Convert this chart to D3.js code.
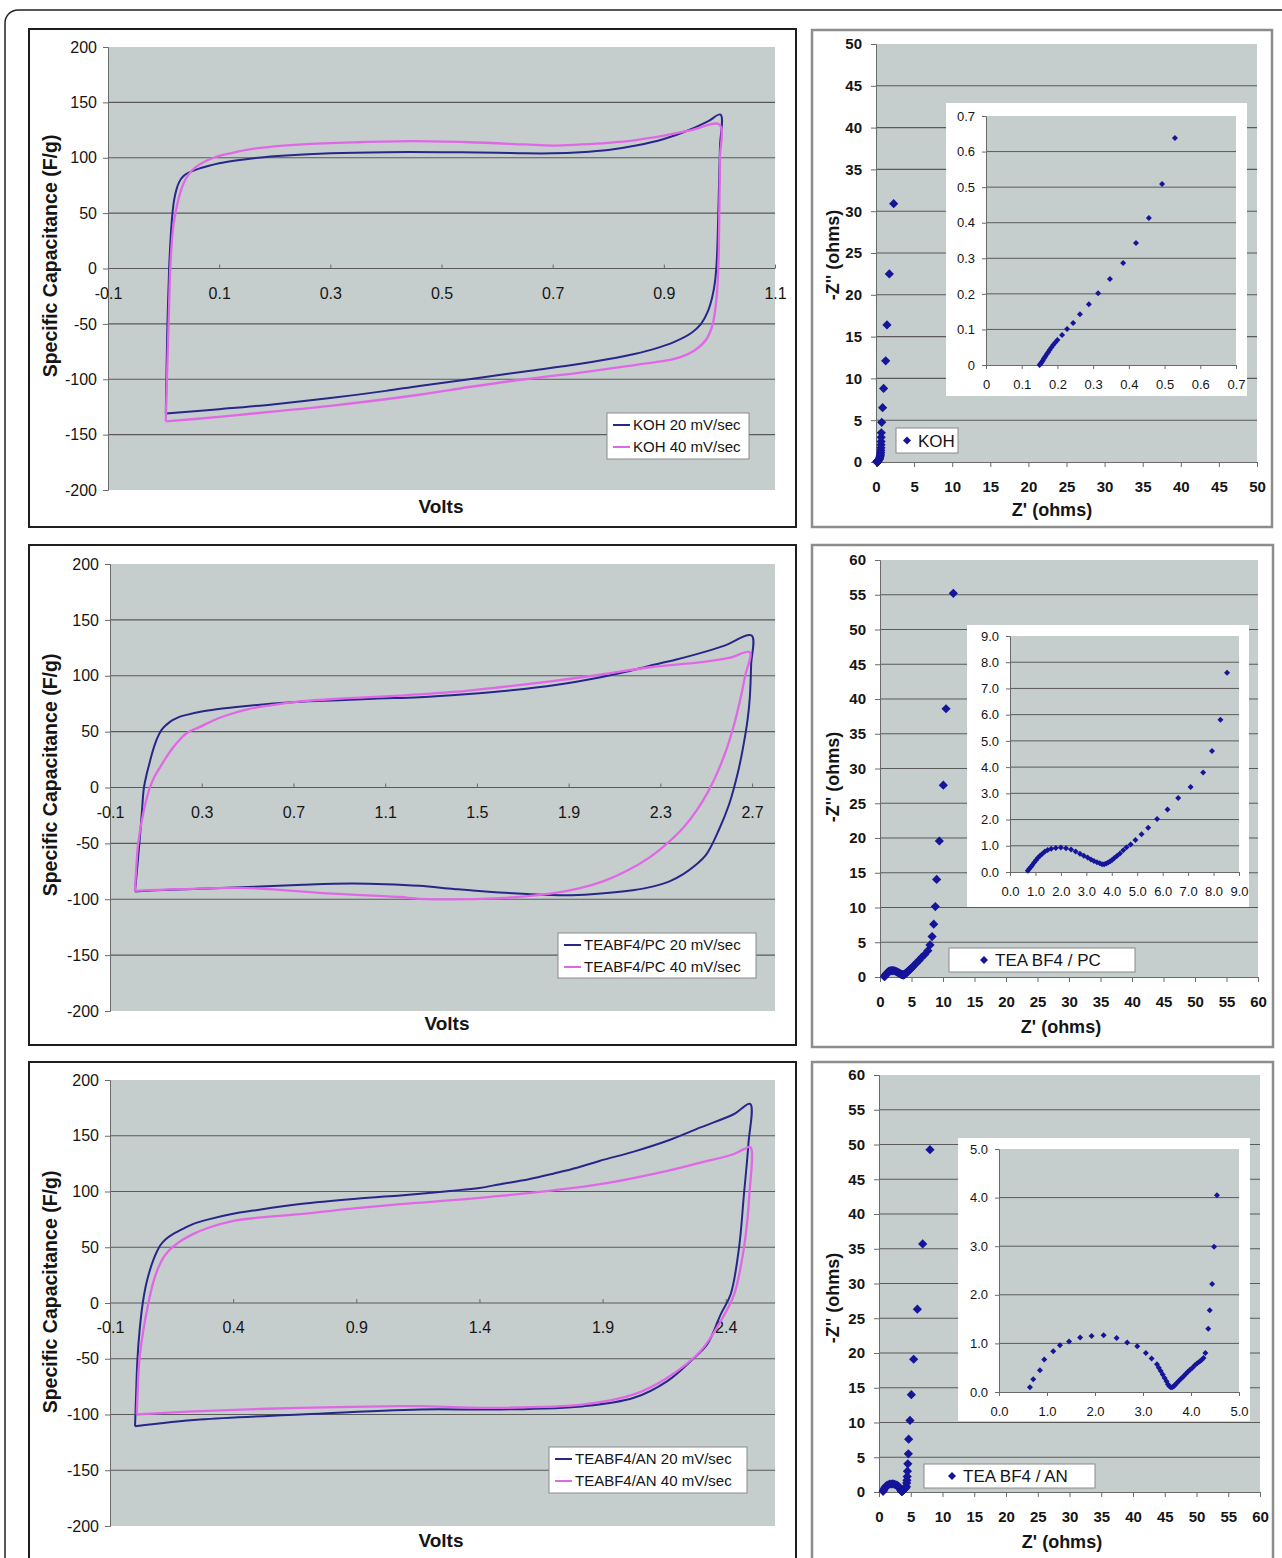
<!DOCTYPE html>
<html><head><meta charset="utf-8">
<script src="https://cdn.jsdelivr.net/npm/d3@7"></script>
<style>body{margin:0;background:#fff;}svg{display:block;}</style>
</head><body>
<svg id="c" width="1282" height="1558"></svg>
<script>
// ---------------- DATA ----------------
// Cyclic voltammograms: [Volts, Specific capacitance F/g]
const koh20 = [[0.004,-131],[0.005,-100],[0.007,-50],[0.010,0],[0.013,30],[0.016,50],[0.019,62],[0.023,71],[0.028,78],[0.035,83],[0.045,86.5],[0.06,89.5],[0.08,92.5],[0.10,95],[0.13,97.5],[0.17,100],[0.22,102],[0.30,104],[0.40,105],[0.50,105],[0.60,104.5],[0.65,104],[0.70,104],[0.75,105],[0.80,107],[0.85,111],[0.90,117],[0.95,126],[0.98,133],[1.002,139],[1.001,110],[0.999,70],[0.997,30],[0.995,5],[0.992,-12],[0.987,-26],[0.979,-39],[0.967,-50],[0.95,-58],[0.92,-66],[0.88,-73],[0.83,-79],[0.75,-86],[0.65,-93],[0.55,-100],[0.46,-106],[0.40,-110.5],[0.30,-117],[0.20,-122.5],[0.10,-127],[0.004,-131]];
const koh40 = [[0.004,-138],[0.006,-100],[0.009,-50],[0.012,0],[0.015,25],[0.018,40],[0.022,52],[0.027,63],[0.033,73],[0.040,81],[0.05,88],[0.065,94],[0.09,100],[0.12,104],[0.16,108],[0.25,112],[0.35,114],[0.45,115],[0.55,114],[0.65,112],[0.70,111],[0.75,112],[0.80,113.5],[0.85,116],[0.90,120],[0.95,125],[1.00,130],[1.001,100],[1.000,60],[0.999,20],[0.997,-12],[0.993,-35],[0.987,-52],[0.975,-65],[0.955,-74],[0.93,-80],[0.90,-83.5],[0.85,-87],[0.75,-94],[0.65,-100],[0.55,-107],[0.46,-114],[0.30,-124],[0.20,-129],[0.10,-134],[0.004,-138]];
const pc20 = [[0.009,-93],[0.015,-80],[0.028,-50],[0.038,-25],[0.048,0],[0.06,12],[0.07,20],[0.08,28],[0.09,35],[0.10,41],[0.11,46],[0.125,51.5],[0.14,55],[0.16,58.5],[0.175,60.5],[0.20,63],[0.234,65],[0.30,68],[0.365,70],[0.45,72],[0.60,75],[0.75,77],[0.90,78],[1.05,79.5],[1.25,80.8],[1.45,83.5],[1.65,87],[1.85,92],[2.04,98.7],[2.15,103.5],[2.255,109],[2.37,114.5],[2.47,120],[2.58,127],[2.698,136],[2.696,110],[2.69,80],[2.68,60],[2.66,35],[2.64,15],[2.60,-15],[2.555,-38],[2.50,-60],[2.45,-70],[2.40,-77.5],[2.34,-84],[2.27,-88.5],[2.18,-92],[2.00,-95.5],[1.89,-96.4],[1.72,-95.3],[1.55,-93.3],[1.40,-90.8],[1.25,-88],[1.10,-86.5],[0.95,-86],[0.75,-87],[0.5,-89],[0.1,-92],[0.009,-93]];
const pc40 = [[0.009,-92.5],[0.013,-77],[0.023,-50],[0.045,-23],[0.074,0],[0.095,10],[0.118,18],[0.145,27],[0.176,36],[0.205,43],[0.234,48.5],[0.26,51.5],[0.29,54],[0.35,60],[0.40,64],[0.50,70],[0.60,73.5],[0.73,77],[0.90,79.5],[1.165,82.3],[1.40,85.5],[1.60,89.7],[1.82,95],[2.04,101],[2.255,107.6],[2.47,112],[2.60,116],[2.69,121],[2.67,100],[2.65,80],[2.62,55],[2.59,35],[2.55,14],[2.51,-3],[2.46,-20],[2.40,-36],[2.33,-50],[2.25,-63],[2.15,-75],[2.05,-84],[1.95,-90],[1.82,-95],[1.60,-99],[1.25,-99.6],[1.165,-98],[0.87,-95],[0.5,-90],[0.2,-91],[0.009,-92.5]];
const an20 = [[0.0016,-110.5],[0.004,-95],[0.006,-82],[0.011,-52],[0.02,-25],[0.033,0],[0.045,15],[0.06,28],[0.075,38],[0.09,46],[0.105,52],[0.125,57],[0.157,62],[0.20,67],[0.239,71],[0.30,75],[0.40,80],[0.50,83.5],[0.672,88.7],[0.90,93.5],[1.079,96.5],[1.16,98],[1.28,100.5],[1.40,103.2],[1.485,106.6],[1.60,111],[1.70,116],[1.80,121.5],[1.89,127.6],[2.03,136],[2.163,145.5],[2.298,157.5],[2.434,169.5],[2.499,178.5],[2.492,142.6],[2.474,97.7],[2.454,49.7],[2.42,7.8],[2.38,-10],[2.325,-37],[2.258,-52],[2.163,-70],[2.027,-85],[1.824,-92.5],[1.485,-95.5],[1.16,-95.5],[0.672,-100],[0.266,-104.5],[0.0016,-110.5]];
const an40 = [[0.0085,-100],[0.012,-80],[0.019,-52],[0.035,-25],[0.056,0],[0.075,18],[0.095,31],[0.115,40],[0.135,46],[0.157,50.5],[0.19,56],[0.239,62],[0.30,67.5],[0.401,73.7],[0.50,76.5],[0.672,79.7],[0.9,85],[1.079,88.7],[1.16,90],[1.485,96],[1.89,106.6],[2.163,118.6],[2.298,126],[2.434,133.6],[2.474,138],[2.50,139.7],[2.496,97.7],[2.474,49.7],[2.434,7.8],[2.38,-16],[2.298,-43],[2.163,-67],[2.027,-82],[1.824,-91],[1.485,-94],[1.16,-92.5],[1.079,-92.5],[0.672,-94],[0.266,-97],[0.0085,-100]];

const cvYTicks = [-200,-150,-100,-50,0,50,100,150,200];
const kohXTicks = [-0.1,0.1,0.3,0.5,0.7,0.9,1.1];
const pcXTicks = [-0.1,0.3,0.7,1.1,1.5,1.9,2.3,2.7];
const anXTicks = [-0.1,0.4,0.9,1.4,1.9,2.4];
const kohNames = ["KOH 20 mV/sec","KOH 40 mV/sec"];
const pcNames = ["TEABF4/PC 20 mV/sec","TEABF4/PC 40 mV/sec"];
const anNames = ["TEABF4/AN 20 mV/sec","TEABF4/AN 40 mV/sec"];

// Nyquist plots: [Z' ohms, -Z'' ohms]
const kohLow = [[0.150,0.000],[0.153,0.004],[0.156,0.008],[0.159,0.013],[0.162,0.018],[0.166,0.024],[0.170,0.030],[0.174,0.036],[0.178,0.042],[0.183,0.049],[0.188,0.056],[0.194,0.063],[0.200,0.070],[0.213,0.084],[0.227,0.101],[0.244,0.118],[0.263,0.143],[0.288,0.171],[0.314,0.202],[0.347,0.242],[0.384,0.287],[0.420,0.343],[0.456,0.413],[0.493,0.509],[0.529,0.638]];
const kohHigh = [[0.56,0.78],[0.59,0.95],[0.61,1.15],[0.63,1.4],[0.65,1.7],[0.66,2.05],[0.67,2.45],[0.68,2.95],[0.70,3.5],[0.75,4.75],[0.87,6.5],[1.0,8.8],[1.27,12.1],[1.44,16.4],[1.75,22.5],[2.32,30.9]];
const pcLow = [[0.70,0.05],[0.76,0.12],[0.82,0.19],[0.88,0.27],[0.95,0.36],[1.02,0.45],[1.10,0.54],[1.18,0.62],[1.27,0.70],[1.37,0.78],[1.48,0.84],[1.62,0.89],[1.80,0.92],[2.00,0.93],[2.20,0.91],[2.40,0.86],[2.58,0.78],[2.75,0.70],[2.90,0.62],[3.05,0.55],[3.18,0.48],[3.30,0.42],[3.42,0.37],[3.53,0.33],[3.62,0.30],[3.70,0.30],[3.78,0.32],[3.86,0.36],[3.94,0.41],[4.02,0.47],[4.10,0.53],[4.20,0.61],[4.32,0.71],[4.45,0.83],[4.58,0.94],[4.74,1.05],[4.93,1.22],[5.17,1.44],[5.43,1.69],[5.78,2.02],[6.19,2.38],[6.61,2.82],[7.10,3.24],[7.59,3.79],[7.94,4.61],[8.27,5.81],[8.53,7.60]];
const pcHigh = [[8.78,10.14],[8.99,14.04],[9.42,19.57],[10.05,27.6],[10.48,38.6],[11.64,55.2]];
const anLow = [[0.645,0.10],[0.714,0.26],[0.853,0.45],[0.943,0.67],[1.13,0.84],[1.27,0.96],[1.46,1.04],[1.69,1.12],[1.93,1.15],[2.18,1.17],[2.45,1.11],[2.67,1.02],[2.88,0.94],[3.06,0.80],[3.18,0.69],[3.29,0.57],[3.33,0.50],[3.37,0.43],[3.41,0.36],[3.45,0.29],[3.49,0.22],[3.52,0.16],[3.55,0.12],[3.58,0.10],[3.61,0.10],[3.64,0.12],[3.67,0.15],[3.70,0.18],[3.74,0.22],[3.78,0.26],[3.82,0.30],[3.86,0.34],[3.90,0.38],[3.94,0.42],[3.98,0.46],[4.03,0.50],[4.08,0.55],[4.13,0.59],[4.18,0.63],[4.22,0.66],[4.26,0.70],[4.30,0.80],[4.36,1.30],[4.39,1.68],[4.44,2.22],[4.48,2.99],[4.54,4.05]];
const anHigh = [[4.62,5.5],[4.67,7.6],[4.88,10.3],[5.09,14.0],[5.46,19.1],[6.04,26.3],[6.88,35.7],[8.03,49.25]];

const ny50Ticks = [0,5,10,15,20,25,30,35,40,45,50];
const ny60Ticks = [0,5,10,15,20,25,30,35,40,45,50,55,60];
const kohInsetTicks = [0,0.1,0.2,0.3,0.4,0.5,0.6,0.7];
const pcInsetTicks = [0,1,2,3,4,5,6,7,8,9];
const anInsetTicks = [0,1,2,3,4,5];

// ---------------- DRAWING ----------------
const FONT = "'Liberation Sans', Arial, Helvetica, sans-serif";
const TXT = "#151515", BG = "#c6cdcd", GRID = "#5a5a5a", AX = "#6a6a6a";
const NAVY = "#27278a", MAG = "#e068e6", MARK = "#15159a";
const svg = d3.select("#c").attr("font-family", FONT);

svg.append("rect").attr("x",5).attr("y",10).attr("width",1290).attr("height",1600).attr("rx",13)
  .attr("fill","#fff").attr("stroke","#222").attr("stroke-width",1.5);

const dia = r => `M0,${-r}L${r},0L0,${r}L${-r},0Z`;

function styleAxis(a, size, weight){
  a.attr("font-family", FONT);
  a.select(".domain").attr("stroke", AX);
  a.selectAll(".tick line").attr("stroke", AX);
  a.selectAll(".tick text").attr("font-size", size).attr("font-weight", weight).attr("fill", TXT).attr("font-family", FONT);
}

function cvPanel(p){
  const g = svg.append("g");
  g.append("rect").attr("x",p.box[0]).attr("y",p.box[1]).attr("width",p.box[2]).attr("height",p.box[3])
    .attr("fill","#fff").attr("stroke","#1e1e1e").attr("stroke-width",2);
  const [x0,y0,x1,y1] = p.plot;
  const x = d3.scaleLinear().domain(p.xd).range([x0,x1]);
  const y = d3.scaleLinear().domain([-200,200]).range([y1,y0]);
  g.append("rect").attr("x",x0).attr("y",y0).attr("width",x1-x0).attr("height",y1-y0).attr("fill",BG);
  g.selectAll("line.gl").data(cvYTicks.filter(v=>v>-200&&v<200)).join("line").attr("class","gl")
    .attr("x1",x0).attr("x2",x1).attr("y1",d=>y(d)).attr("y2",d=>y(d)).attr("stroke",GRID).attr("stroke-width",1.1);
  const ya = g.append("g").attr("transform",`translate(${x0},0)`)
    .call(d3.axisLeft(y).tickValues(cvYTicks).tickSize(5).tickPadding(6).tickFormat(d=>String(d)));
  styleAxis(ya, 16, "normal");
  const xa = g.append("g").attr("transform",`translate(0,${y(0)})`)
    .call(d3.axisBottom(x).tickValues(p.xt).tickSizeInner(-4).tickSizeOuter(0).tickPadding(19).tickFormat(d=>d.toFixed(1)));
  styleAxis(xa, 16, "normal");
  xa.select(".domain").remove();
  const line = d3.line().x(d=>x(d[0])).y(d=>y(d[1])).curve(d3.curveCatmullRom.alpha(0.5));
  const cols = [NAVY, MAG];
  p.series.forEach((s,i)=>{
    g.append("path").datum(s).attr("d",line).attr("fill","none").attr("stroke",cols[i])
      .attr("stroke-width", i===0?2:2.3).attr("stroke-linejoin","round");
  });
  // legend
  const [lx,ly,lw,lh] = p.legend;
  g.append("rect").attr("x",lx).attr("y",ly).attr("width",lw).attr("height",lh).attr("fill","#fff").attr("stroke","#8a8a8a").attr("stroke-width",1);
  p.names.forEach((n,i)=>{
    const cy = ly + 12 + i*22;
    g.append("line").attr("x1",lx+6).attr("x2",lx+23).attr("y1",cy).attr("y2",cy).attr("stroke",cols[i]).attr("stroke-width",2);
    g.append("text").attr("x",lx+26).attr("y",cy).attr("dy","0.35em").attr("font-size",15).attr("fill",TXT).text(n);
  });
  g.append("text").attr("x",p.xlab[0]).attr("y",p.xlab[1]).attr("dy","0.35em").attr("text-anchor","middle")
    .attr("font-size",19).attr("font-weight","bold").attr("fill",TXT).text("Volts");
  g.append("text").attr("transform",`translate(${p.ylab[0]},${p.ylab[1]}) rotate(-90)`).attr("dy","0.35em").attr("text-anchor","middle")
    .attr("font-size",19.5).attr("font-weight","bold").attr("fill",TXT).text("Specific Capacitance (F/g)");
}

function nyPanel(p){
  const g = svg.append("g");
  g.append("rect").attr("x",p.box[0]).attr("y",p.box[1]).attr("width",p.box[2]).attr("height",p.box[3])
    .attr("fill","#fff").attr("stroke","#8d8d8d").attr("stroke-width",2.5);
  const [x0,y0,x1,y1] = p.plot;
  const x = d3.scaleLinear().domain([0,p.max]).range([x0,x1]);
  const y = d3.scaleLinear().domain([0,p.max]).range([y1,y0]);
  g.append("rect").attr("x",x0).attr("y",y0).attr("width",x1-x0).attr("height",y1-y0).attr("fill",BG);
  g.selectAll("line.gl").data(p.ticks.filter(v=>v>0&&v<p.max)).join("line").attr("class","gl")
    .attr("x1",x0).attr("x2",x1).attr("y1",d=>y(d)).attr("y2",d=>y(d)).attr("stroke",GRID).attr("stroke-width",1.1);
  const ya = g.append("g").attr("transform",`translate(${x0},0)`)
    .call(d3.axisLeft(y).tickValues(p.ticks).tickSize(5).tickPadding(9).tickFormat(d=>String(d)));
  styleAxis(ya, 15, "bold");
  const xa = g.append("g").attr("transform",`translate(0,${y1})`)
    .call(d3.axisBottom(x).tickValues(p.ticks).tickSize(5).tickPadding(14).tickFormat(d=>String(d)));
  styleAxis(xa, 15, "bold");
  const all = p.low.concat(p.high);
  g.selectAll("path.pt").data(all).join("path").attr("class","pt")
    .attr("transform",d=>`translate(${x(d[0])},${y(d[1])})`).attr("d",dia(4.6)).attr("fill",MARK);
  // inset
  const ib = p.inset.box;
  g.append("rect").attr("x",ib[0]).attr("y",ib[1]).attr("width",ib[2]).attr("height",ib[3]).attr("fill","#fff");
  const [ix0,iy0,ix1,iy1] = p.inset.plot;
  const ix = d3.scaleLinear().domain([0,p.inset.max]).range([ix0,ix1]);
  const iy = d3.scaleLinear().domain([0,p.inset.max]).range([iy1,iy0]);
  g.append("rect").attr("x",ix0).attr("y",iy0).attr("width",ix1-ix0).attr("height",iy1-iy0).attr("fill",BG);
  g.selectAll("line.igl").data(p.inset.ticks.filter(v=>v>0&&v<p.inset.max)).join("line").attr("class","igl")
    .attr("x1",ix0).attr("x2",ix1).attr("y1",d=>iy(d)).attr("y2",d=>iy(d)).attr("stroke",GRID).attr("stroke-width",1);
  const iya = g.append("g").attr("transform",`translate(${ix0},0)`)
    .call(d3.axisLeft(iy).tickValues(p.inset.ticks).tickSize(4).tickPadding(7).tickFormat(p.inset.fmt));
  styleAxis(iya, 13, "normal");
  const ixa = g.append("g").attr("transform",`translate(0,${iy1})`)
    .call(d3.axisBottom(ix).tickValues(p.inset.ticks).tickSize(4).tickPadding(11).tickFormat(p.inset.fmt));
  styleAxis(ixa, 13, "normal");
  g.selectAll("path.ipt").data(p.low).join("path").attr("class","ipt")
    .attr("transform",d=>`translate(${ix(d[0])},${iy(d[1])})`).attr("d",dia(3)).attr("fill",MARK);
  // legend
  const [lx,ly,lw,lh] = p.legend;
  g.append("rect").attr("x",lx).attr("y",ly).attr("width",lw).attr("height",lh).attr("fill","#fff").attr("stroke","#8a8a8a").attr("stroke-width",1);
  g.append("path").attr("transform",`translate(${lx+p.legendDx},${ly+lh/2})`).attr("d",dia(4)).attr("fill",MARK);
  g.append("text").attr("x",lx+p.legendDx+11).attr("y",ly+lh/2).attr("dy","0.36em").attr("font-size",17).attr("fill",TXT).text(p.name);
  g.append("text").attr("x",p.xlab[0]).attr("y",p.xlab[1]).attr("dy","0.35em").attr("text-anchor","middle")
    .attr("font-size",18).attr("font-weight","bold").attr("fill",TXT).text("Z' (ohms)");
  g.append("text").attr("transform",`translate(${p.ylab[0]},${p.ylab[1]}) rotate(-90)`).attr("dy","0.35em").attr("text-anchor","middle")
    .attr("font-size",18).attr("font-weight","bold").attr("fill",TXT).text("-Z'' (ohms)");
}

cvPanel({box:[29,29,767,498], plot:[108,47,775,490], xd:[-0.1,1.1], xt:kohXTicks, series:[koh20,koh40], names:kohNames,
  legend:[607,413,142,46], xlab:[441,506], ylab:[50,256]});
cvPanel({box:[29,545,767,500], plot:[110,564,775,1011], xd:[-0.1,2.8], xt:pcXTicks, series:[pc20,pc40], names:pcNames,
  legend:[558,933,198,45], xlab:[447,1023], ylab:[50,775]});
cvPanel({box:[29,1062,767,520], plot:[110,1080,775,1526], xd:[-0.1,2.6], xt:anXTicks, series:[an20,an40], names:anNames,
  legend:[549,1447,198,46], xlab:[441,1540], ylab:[50,1292]});

const f1 = d => d.toFixed(1);
nyPanel({box:[812,30,460,497], plot:[876,44,1257,462], max:50, ticks:ny50Ticks, low:kohLow, high:kohHigh,
  inset:{box:[946,103,301,293], plot:[986,116,1236,365], max:0.7, ticks:kohInsetTicks, fmt:d=>d===0?"0":d.toFixed(1)},
  legend:[896,428,62,25], legendDx:11, name:"KOH", xlab:[1052,510], ylab:[833,255]});
nyPanel({box:[812,545,461,502], plot:[880,560,1258,977], max:60, ticks:ny60Ticks, low:pcLow, high:pcHigh,
  inset:{box:[967,625,282,282], plot:[1010,636,1239,872], max:9, ticks:pcInsetTicks, fmt:f1},
  legend:[949,948,186,24], legendDx:35, name:"TEA BF4 / PC", xlab:[1061,1027], ylab:[833,777]});
nyPanel({box:[812,1062,461,520], plot:[879,1075,1260,1492], max:60, ticks:ny60Ticks, low:anLow, high:anHigh,
  inset:{box:[958,1138,292,283], plot:[999,1149,1239,1392], max:5, ticks:anInsetTicks, fmt:f1},
  legend:[924,1464,171,24], legendDx:28, name:"TEA BF4 / AN", xlab:[1062,1542], ylab:[833,1298]});
</script>
</body></html>
